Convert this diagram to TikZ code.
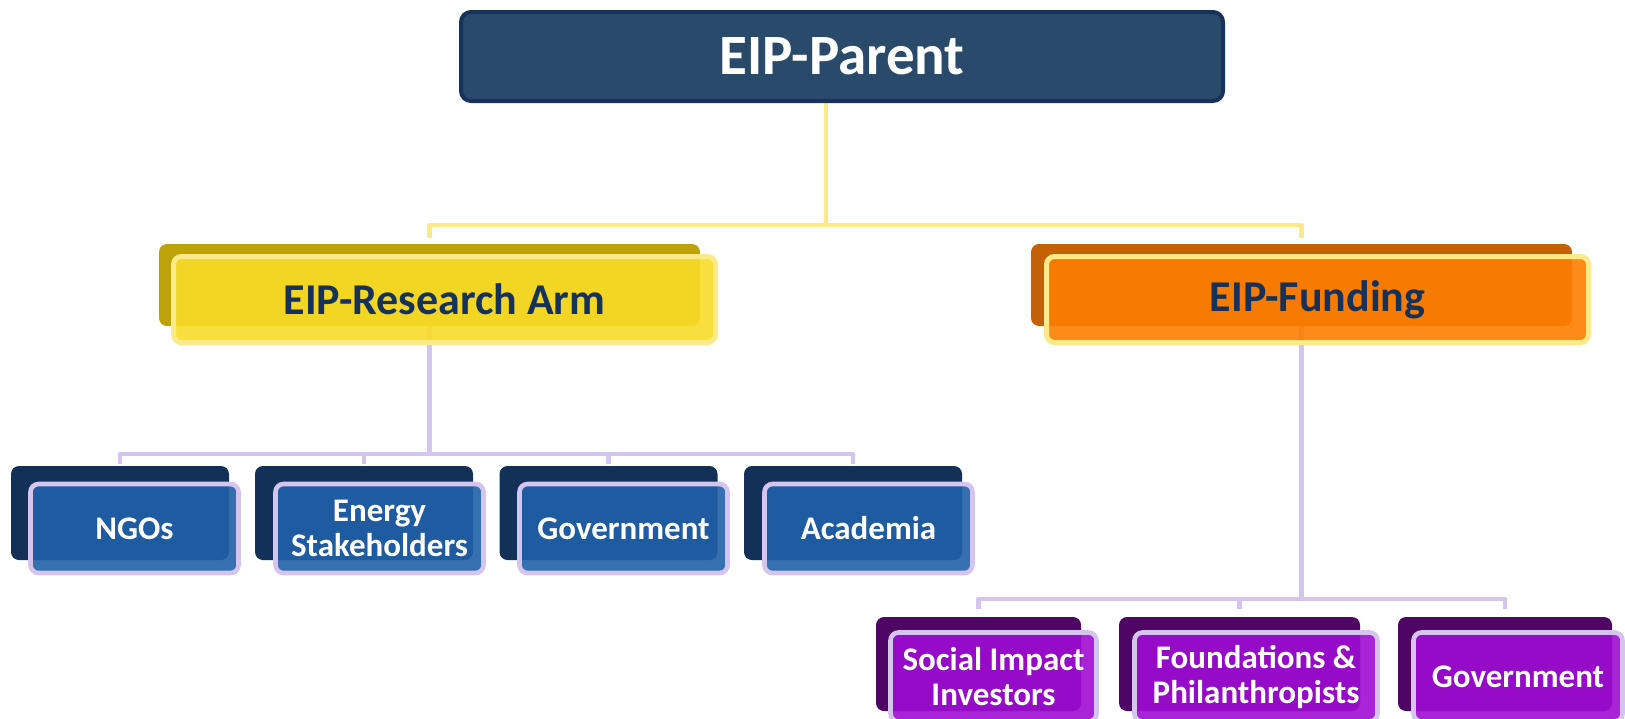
\documentclass[tikz,border=0pt]{standalone}
\usepackage{fontspec}
\setmainfont{Carlito}
\usetikzlibrary{backgrounds}

\definecolor{parentfill}{HTML}{294A6B}
\definecolor{parentline}{HTML}{17335A}
\definecolor{navytext}{HTML}{17325A}
\definecolor{ylshadow}{HTML}{BDA309}
\definecolor{ylfront}{HTML}{F8DC26}
\definecolor{ylline}{HTML}{FCEA8A}
\definecolor{orshadow}{HTML}{C46104}
\definecolor{orfront}{HTML}{FD7E00}
\definecolor{blshadow}{HTML}{133158}
\definecolor{blfront}{HTML}{2060A8}
\definecolor{pushadow}{HTML}{4E0563}
\definecolor{pufront}{HTML}{9E0CD2}
\definecolor{lavline}{HTML}{D4C4EE}

\begin{document}
\begin{tikzpicture}[x=0.5pt,y=-0.5pt]
  \tikzstyle{parentbox} = [draw=parentline, line width=2pt, fill=parentfill, rounded corners=5pt, inner sep=0pt, minimum width=381pt, minimum height=44.5pt, text=white, font=\bfseries\fontsize{28.5}{30}\selectfont]
  \tikzstyle{armshadow} = [rounded corners=4pt, inner sep=0pt, minimum width=270.5pt, minimum height=41pt]
  \tikzstyle{armfront} = [draw=ylline, line width=2.5pt, rounded corners=4pt, fill opacity=0.9, text opacity=1, inner sep=0pt, minimum width=271pt, minimum height=43pt, text=navytext, font=\bfseries\fontsize{22}{24}\selectfont]
  \tikzstyle{leafshadow} = [rounded corners=4pt, inner sep=0pt, minimum height=47pt]
  \tikzstyle{leaffront} = [draw=lavline, line width=2.3pt, rounded corners=4pt, fill opacity=0.9, text opacity=1, inner sep=0pt, minimum height=44.5pt, align=center, text=white, font=\bfseries\fontsize{16.5}{17.5}\selectfont]
  \tikzstyle{yline} = [draw=ylline, line width=2.4pt, line join=round]
  \tikzstyle{lline} = [draw=lavline, line width=2.3pt, line join=round]

  \useasboundingbox (0,0) rectangle (1625,718);

  % top
  \draw (842,56.5) node[parentbox] (parent) {EIP-Parent};

  % second row
  \draw (429.5,285) node[armshadow, fill=ylshadow] (resS) {};
  \draw (444.5,299.5) node[armfront, fill=ylfront] (res) {EIP-Research Arm};
  \draw (1301.5,285) node[armshadow, fill=orshadow] (fundS) {};
  \draw (1317.5,299.5) node[armfront, fill=orfront] (fund) {EIP-Funding};

  % research partners
  \draw (120,513) node[leafshadow, fill=blshadow, minimum width=109pt] (ngoS) {};
  \draw (134.5,528.5) node[leaffront, fill=blfront, minimum width=104pt] (ngo) {NGOs};
  \draw (364,513) node[leafshadow, fill=blshadow, minimum width=109pt] (enS) {};
  \draw (379.5,528.5) node[leaffront, fill=blfront, minimum width=104pt] (en) {Energy\\Stakeholders};
  \draw (608.5,513) node[leafshadow, fill=blshadow, minimum width=109pt] (govS) {};
  \draw (623.5,528.5) node[leaffront, fill=blfront, minimum width=104pt] (gov) {Government};
  \draw (853,513) node[leafshadow, fill=blshadow, minimum width=109pt] (acaS) {};
  \draw (868.5,528.5) node[leaffront, fill=blfront, minimum width=104pt] (aca) {Academia};

  % funding sources
  \draw (978.5,664) node[leafshadow, fill=pushadow, minimum width=102.5pt] (sociS) {};
  \draw (993.5,677) node[leaffront, fill=pufront, minimum width=103pt] (soci) {Social Impact\\Investors};
  \draw (1239.5,664) node[leafshadow, fill=pushadow, minimum width=120.5pt] (phiS) {};
  \draw (1256,677) node[leaffront, fill=pufront, minimum width=121.5pt] (phi) {Foundations \&\\Philanthropists};
  \draw (1505,664) node[leafshadow, fill=pushadow, minimum width=107pt] (fgovS) {};
  \draw (1518,677) node[leaffront, fill=pufront, minimum width=104.5pt] (fgov) {Government};

  % connectors
  \coordinate (topbus) at (0,225);
  \coordinate (resbus) at (0,454);
  \coordinate (fundbus) at (0,599);
  \begin{scope}[on background layer]
    \draw[yline] ([xshift=-8pt]parent.center) -- ([xshift=-8pt]parent.center |- topbus);
    \draw[yline] ([yshift=3pt]resS.north) |- (fundS |- topbus) -- ([yshift=3pt]fundS.north);
    \draw[lline] (resS.center) -- (resS |- resbus);
    \draw[lline] ([yshift=1pt]ngoS.north) |- (acaS |- resbus) -- ([yshift=1pt]acaS.north);
    \draw[lline] ([yshift=1pt]enS.north) -- (enS |- resbus);
    \draw[lline] ([yshift=1pt]govS.north) -- (govS |- resbus);
    \draw[lline] (fundS.center) -- (fundS |- fundbus);
    \draw[lline] ([yshift=4pt]sociS.north) |- (fgovS |- fundbus) -- ([yshift=4pt]fgovS.north);
    \draw[lline] ([yshift=4pt]phiS.north) -- (phiS |- fundbus);
  \end{scope}
\end{tikzpicture}
\end{document}
